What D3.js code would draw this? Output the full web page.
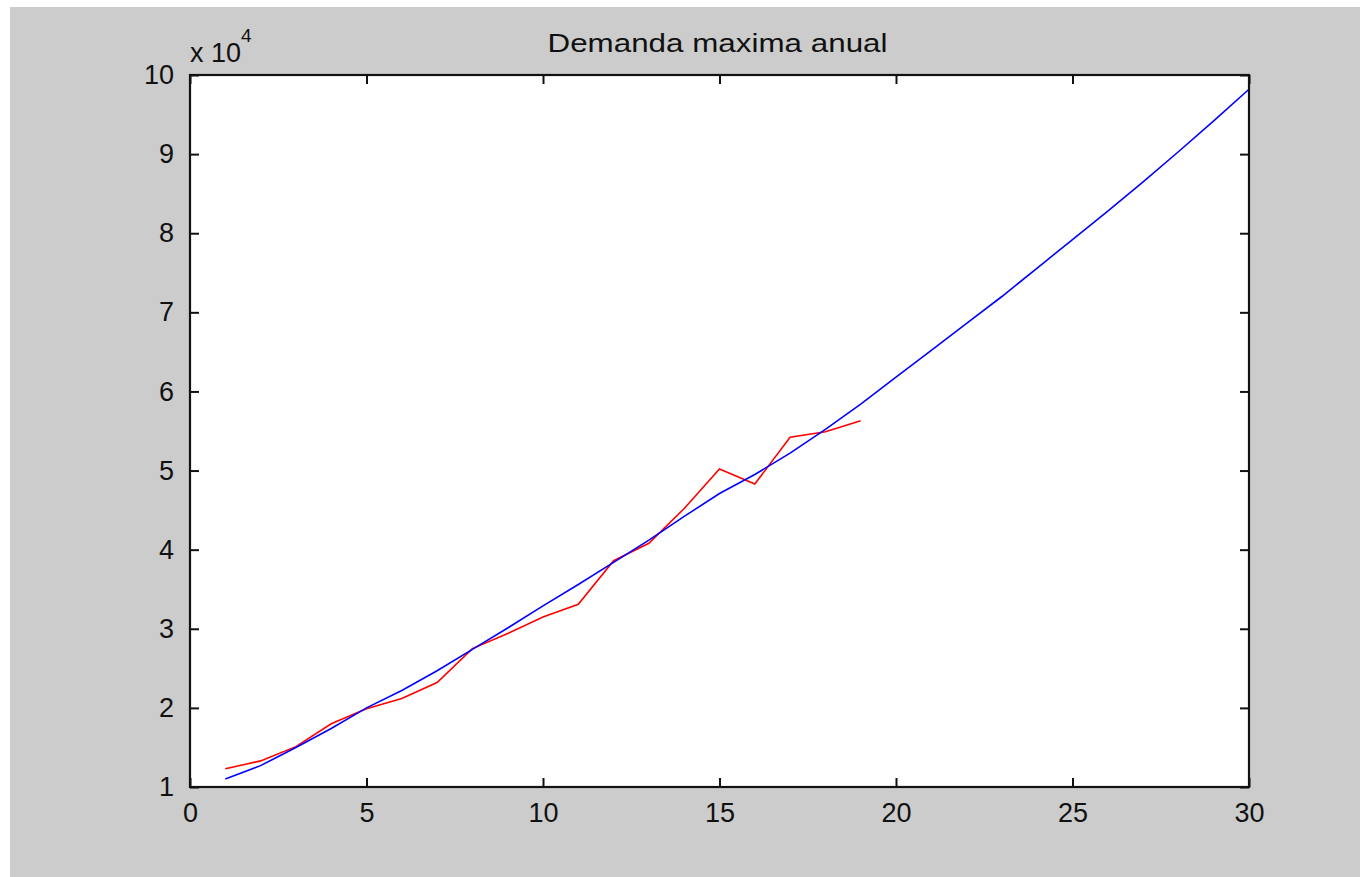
<!DOCTYPE html>
<html>
  <head>
    <meta charset="utf-8">
    <title>Demanda maxima anual</title>
    <script src="https://d3js.org/d3.v7.min.js"></script>
    <style>
      body { margin: 0; background: #ffffff; }
      text { font-family: "Liberation Sans", Arial, sans-serif; fill: #111; }
    </style>
  </head>
  <body>
    <div id="vis"></div>
    <script>
        const width = 1360;
        const height = 877;

        // measured demand, x 10^4 (years 1..19)
        const yearsReal = d3.range(1, 20);
        const demandReal = [1.23, 1.33, 1.51, 1.80, 1.99, 2.12, 2.32, 2.75, 2.94, 3.15,
                            3.31, 3.86, 4.08, 4.52, 5.02, 4.83, 5.42, 5.49, 5.63];

        // fitted curve, x 10^4 (years 1..30)
        const yearsFit = d3.range(1, 31);
        const demandFit = [1.10, 1.27, 1.50, 1.74, 2.00, 2.22, 2.47, 2.74, 3.01, 3.29,
                           3.56, 3.84, 4.12, 4.42, 4.71, 4.95, 5.22, 5.52, 5.84, 6.18,
                           6.52, 6.86, 7.20, 7.56, 7.92, 8.28, 8.65, 9.03, 9.42, 9.82];

        const xTicks = [0, 5, 10, 15, 20, 25, 30];
        const yTicks = [1, 2, 3, 4, 5, 6, 7, 8, 9, 10];

        const plot = {left: 190, right: 1249, top: 75, bottom: 787};

        const svg = d3.select("#vis")
                      .append("svg")
                      .attr("width", width)
                      .attr("height", height);

        // figure background
        svg.append("rect")
           .attr("x", 10).attr("y", 7)
           .attr("width", width - 10).attr("height", height - 7)
           .attr("fill", "#cccccc");

        const x = d3.scaleLinear().domain([0, 30]).range([plot.left, plot.right]);
        const y = d3.scaleLinear().domain([1, 10]).range([plot.bottom, plot.top]);

        // axes area
        svg.append("rect")
           .attr("x", plot.left).attr("y", plot.top)
           .attr("width", plot.right - plot.left)
           .attr("height", plot.bottom - plot.top)
           .attr("fill", "#ffffff");

        const clip = svg.append("clipPath").attr("id", "clip")
           .append("rect")
           .attr("x", plot.left).attr("y", plot.top)
           .attr("width", plot.right - plot.left)
           .attr("height", plot.bottom - plot.top);

        const line = d3.line()
                       .x(d => x(d[0]))
                       .y(d => y(d[1]));

        const g = svg.append("g").attr("clip-path", "url(#clip)");

        g.append("path")
         .datum(yearsReal.map((t, i) => [t, demandReal[i]]))
         .attr("d", line)
         .attr("fill", "none")
         .attr("stroke", "#ff0000")
         .attr("stroke-width", 1.6);

        g.append("path")
         .datum(yearsFit.map((t, i) => [t, demandFit[i]]))
         .attr("d", line)
         .attr("fill", "none")
         .attr("stroke", "#0000ff")
         .attr("stroke-width", 1.6);

        // axes with inward ticks on all four sides
        const tickLen = 9;
        const axisStyle = function(sel) {
          sel.select(".domain").remove();
          sel.selectAll(".tick line").attr("stroke", "#111").attr("stroke-width", 2);
          sel.selectAll(".tick text").attr("font-size", 27).attr("fill", "#111")
             .style("font-family", "'Liberation Sans', Arial, sans-serif");
        };

        svg.append("g")
           .attr("transform", `translate(0,${plot.bottom})`)
           .call(d3.axisBottom(x).tickValues(xTicks).tickSize(-tickLen).tickPadding(16).tickFormat(d3.format("d")))
           .call(axisStyle);

        svg.append("g")
           .attr("transform", `translate(0,${plot.top})`)
           .call(d3.axisTop(x).tickValues(xTicks).tickSize(-tickLen).tickFormat(""))
           .call(axisStyle);

        svg.append("g")
           .attr("transform", `translate(${plot.left},0)`)
           .call(d3.axisLeft(y).tickValues(yTicks).tickSize(-tickLen).tickPadding(16).tickFormat(d3.format("d")))
           .call(axisStyle);

        svg.append("g")
           .attr("transform", `translate(${plot.right},0)`)
           .call(d3.axisRight(y).tickValues(yTicks).tickSize(-tickLen).tickFormat(""))
           .call(axisStyle);

        // box
        svg.append("rect")
           .attr("x", plot.left).attr("y", plot.top)
           .attr("width", plot.right - plot.left)
           .attr("height", plot.bottom - plot.top)
           .attr("fill", "none")
           .attr("stroke", "#111")
           .attr("stroke-width", 2.2);

        // title
        svg.append("text")
           .attr("x", (plot.left + plot.right) / 2 - 2)
           .attr("y", 52)
           .attr("text-anchor", "middle")
           .attr("font-size", 26)
           .attr("textLength", 340)
           .attr("lengthAdjust", "spacingAndGlyphs")
           .text("Demanda maxima anual");

        // exponent label
        const expo = svg.append("text")
           .attr("x", plot.left)
           .attr("y", 62)
           .attr("font-size", 27);
        expo.append("tspan").text("x 10");
        expo.append("tspan").attr("dy", -20).attr("font-size", 19).text("4");
    </script>
  </body>
</html>
